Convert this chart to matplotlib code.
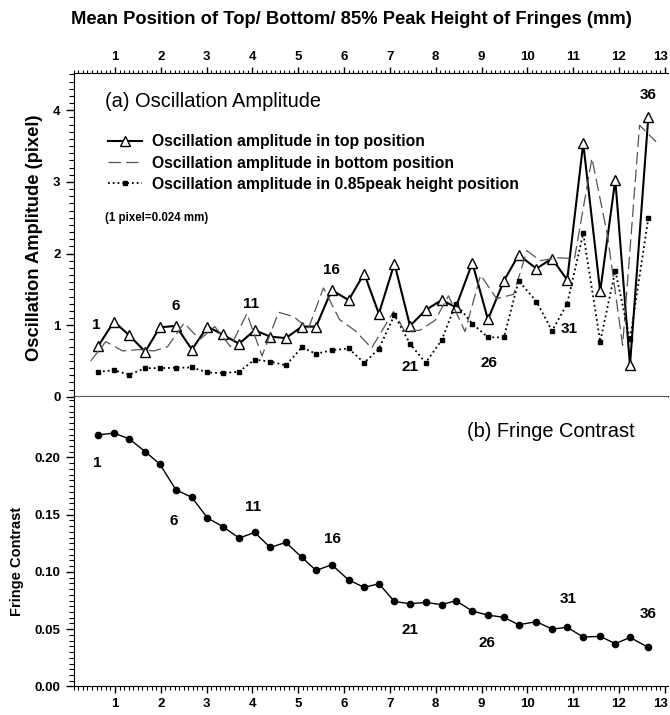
import matplotlib
matplotlib.use("Agg")
from matplotlib import pyplot as plt
from matplotlib.ticker import MultipleLocator, FixedLocator, FormatStrFormatter
import matplotlib.transforms as mtransforms

plt.rcParams['font.family'] = ['Liberation Sans', 'DejaVu Sans']

# mean fringe positions (mm), fringe 1..36
pos = [0.635, 0.98, 1.31, 1.66, 1.98, 2.33, 2.68, 3.02, 3.35, 3.71,
       4.05, 4.39, 4.73, 5.08, 5.39, 5.73, 6.10, 6.44, 6.76, 7.10,
       7.44, 7.78, 8.13, 8.44, 8.80, 9.14, 9.49, 9.81, 10.20, 10.54,
       10.87, 11.22, 11.59, 11.92, 12.24, 12.64]

# oscillation amplitude (pixel)
amp_top = [0.71, 1.05, 0.86, 0.63, 0.97, 0.99, 0.66, 0.98, 0.87, 0.74,
           0.93, 0.84, 0.82, 0.98, 0.98, 1.49, 1.35, 1.72, 1.16, 1.86,
           0.99, 1.21, 1.35, 1.25, 1.87, 1.08, 1.62, 1.98, 1.79, 1.93,
           1.63, 3.54, 1.47, 3.03, 0.44, 3.90]
amp_peak = [0.35, 0.37, 0.31, 0.40, 0.40, 0.405, 0.41, 0.34, 0.33, 0.35,
            0.52, 0.49, 0.44, 0.69, 0.60, 0.65, 0.675, 0.475, 0.67, 1.14,
            0.74, 0.475, 0.79, 1.30, 1.02, 0.83, 0.83, 1.62, 1.33, 0.92,
            1.30, 2.28, 0.77, 1.76, 0.80, 2.49]

# bottom position series sits on its own positions
pos_bot = [0.47, 0.80, 1.17, 1.55, 1.85, 2.15, 2.51, 2.85, 3.18, 3.52,
           3.88, 4.21, 4.57, 4.90, 5.22, 5.55, 5.90, 6.25, 6.60, 7.08,
           7.33, 7.66, 7.99, 8.28, 8.64, 8.98, 9.33, 9.70, 9.99, 10.28,
           10.65, 11.03, 11.41, 11.75, 12.08, 12.45, 12.81]
amp_bot = [0.50, 0.77, 0.64, 0.66, 0.64, 0.70, 1.03, 0.80, 0.98, 0.70,
           1.16, 0.57, 1.18, 1.12, 0.95, 1.52, 1.08, 0.92, 0.68, 1.19,
           0.91, 0.93, 1.07, 1.41, 0.91, 1.70, 1.37, 1.43, 2.04, 1.90,
           1.94, 1.93, 3.33, 2.25, 0.72, 3.79, 3.56]

# fringe contrast
contrast = [0.2198, 0.2213, 0.2163, 0.2052, 0.1942, 0.1718, 0.1651, 0.1471,
            0.1397, 0.1296, 0.1345, 0.1214, 0.1258, 0.1127, 0.1013, 0.1063,
            0.0930, 0.0865, 0.0897, 0.0742, 0.0722, 0.0734, 0.0714, 0.0749,
            0.0658, 0.0623, 0.0603, 0.0539, 0.0565, 0.0501, 0.0516, 0.0431,
            0.0437, 0.0373, 0.0428, 0.0341]

fig = plt.figure(figsize=(6.7, 7.15), dpi=100)
ax1 = fig.add_axes([0.110, 0.445, 0.887, 0.453])
ax2 = fig.add_axes([0.110, 0.040, 0.887, 0.405])

bold = dict(fontweight='bold')

# ---- (a) oscillation amplitude
ax1.plot(pos, amp_top, '-', color='black', lw=1.5, marker='^', ms=6.5,
         mfc='white', mec='black', mew=1.0,
         label='Oscillation amplitude in top position')
ax1.plot(pos_bot, amp_bot, color='#555555', lw=0.9, dashes=(10, 4),
         label='Oscillation amplitude in bottom position')
ax1.plot(pos, amp_peak, ':', color='black', lw=1.3, marker='s', ms=3.5,
         mfc='black', mec='black',
         label='Oscillation amplitude in 0.85peak height position')

ax1.set_xlim(0.1, 13.07)
ax1.set_ylim(0, 4.52)
ax1.xaxis.set_major_locator(MultipleLocator(1))
ax1.xaxis.set_minor_locator(MultipleLocator(0.1))
ax1.yaxis.set_major_locator(MultipleLocator(1))
ax1.yaxis.set_minor_locator(MultipleLocator(0.1))
ax1.xaxis.tick_top()
ax1.xaxis.set_label_position('top')
ax1.tick_params(axis='x', which='major', length=4.5, width=1, pad=3,
                top=True, bottom=False)
ax1.tick_params(axis='x', which='minor', length=2.5, width=0.8,
                top=True, bottom=False)
ax1.tick_params(axis='y', which='major', length=6, width=1)
ax1.tick_params(axis='y', which='minor', length=3.5, width=0.8)
ax1.spines['right'].set_visible(False)
ax1.spines['bottom'].set_color('#555555')
ax1.spines['bottom'].set_linewidth(1.5)
for lab in ax1.get_xticklabels() + ax1.get_yticklabels():
    lab.set_fontweight('bold')
    lab.set_fontsize(9.5)
ax1.set_xlabel('Mean Position of Top/ Bottom/ 85% Peak Height of Fringes (mm)',
               fontsize=13.2, **bold)
ax1.xaxis.set_label_coords(0.468, 1.15)
ax1.set_ylabel('Oscillation Amplitude (pixel)', fontsize=13.2, **bold)
ax1.yaxis.set_label_coords(-0.052, 0.49)

ax1.text(0.78, 4.12, '(a) Oscillation Amplitude', fontsize=14.4, va='center')
ax1.text(0.78, 2.50, '(1 pixel=0.024 mm)', fontsize=8.3, va='center', **bold)
ax1.legend(loc='upper left', bbox_to_anchor=(0.047, 0.83), frameon=False,
           prop=dict(size=11.3, weight='bold'), handlelength=2.2,
           handletextpad=0.64, labelspacing=0.4, borderaxespad=0)

for s, x, y in [('1', 0.60, 1.00), ('6', 2.33, 1.27), ('11', 3.98, 1.30),
                ('16', 5.73, 1.77), ('21', 7.44, 0.42), ('26', 9.17, 0.475),
                ('31', 10.92, 0.94), ('36', 12.64, 4.21)]:
    ax1.text(x, y, s, ha='center', va='center', fontsize=11, **bold)

# ---- (b) fringe contrast
ax2.plot(pos, contrast, '-', color='black', lw=1.0, marker='o', ms=4.5,
         mfc='black', mec='black')
ax2.set_xlim(0.1, 13.07)
ax2.set_ylim(0, 0.253)
ax2.xaxis.set_major_locator(MultipleLocator(1))
ax2.xaxis.set_minor_locator(MultipleLocator(0.1))
ax2.yaxis.set_major_locator(FixedLocator([0, 0.05, 0.10, 0.15, 0.20]))
ax2.yaxis.set_minor_locator(MultipleLocator(0.005))
ax2.yaxis.set_major_formatter(FormatStrFormatter('%.2f'))
ax2.tick_params(axis='x', which='major', length=5, width=1, pad=3)
ax2.tick_params(axis='x', which='minor', length=3, width=0.8)
ax2.tick_params(axis='y', which='major', length=6, width=1)
ax2.tick_params(axis='y', which='minor', length=3.5, width=0.8)
ax2.spines['right'].set_visible(False)
ax2.spines['top'].set_visible(False)
for lab in ax2.get_xticklabels() + ax2.get_yticklabels():
    lab.set_fontweight('bold')
    lab.set_fontsize(9.5)
ax2.set_ylabel('Fringe Contrast', fontsize=10.5, **bold)
ax2.yaxis.set_label_coords(-0.084, 0.43)

ax2.text(8.68, 0.2227, '(b) Fringe Contrast', fontsize=14.4, va='center')
for s, x, y in [('1', 0.62, 0.195), ('6', 2.29, 0.1447), ('11', 4.02, 0.157),
                ('16', 5.75, 0.129), ('21', 7.44, 0.049), ('26', 9.11, 0.038),
                ('31', 10.90, 0.0766), ('36', 12.64, 0.0635)]:
    ax2.text(x, y, s, ha='center', va='center', fontsize=11, **bold)

# nudge the last x tick label ("13") so it stays inside the figure
fig.canvas.draw()
shift = mtransforms.ScaledTranslation(-3 / 72, 0, fig.dpi_scale_trans)
for ax in (ax1, ax2):
    for tick in ax.xaxis.get_major_ticks():
        if abs(tick.get_loc() - 13) < 1e-6:
            for lab in (tick.label1, tick.label2):
                lab.set_transform(lab.get_transform() + shift)

fig.savefig('out.png', dpi=100)
